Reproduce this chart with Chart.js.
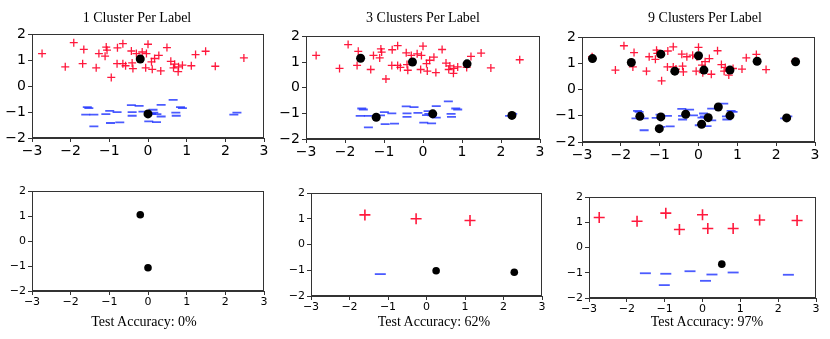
<!DOCTYPE html>
<html>
<head>
<meta charset="utf-8">
<script src="https://cdn.jsdelivr.net/npm/chart.js@4"></script>
<style>
  body { margin: 0; background: #fff; }
  #wrap { position: relative; width: 830px; height: 339px; overflow: hidden; }
  canvas { position: absolute; }
  .lbl { position: absolute; font-family: 'Liberation Serif', 'Times New Roman', serif; font-size: 14px; color: #000; white-space: nowrap; transform: translate(-50%, -50%); }
</style>
</head>
<body>
<div id="wrap">
  <canvas id="p1"></canvas>
  <canvas id="p2"></canvas>
  <canvas id="p3"></canvas>
  <canvas id="p4"></canvas>
  <canvas id="p5"></canvas>
  <canvas id="p6"></canvas>
  <div class="lbl" style="left:137px;top:18px">1 Cluster Per Label</div>
  <div class="lbl" style="left:423px;top:18px">3 Clusters Per Label</div>
  <div class="lbl" style="left:705px;top:18px">9 Clusters Per Label</div>
  <div class="lbl" style="left:144px;top:322px">Test Accuracy: 0%</div>
  <div class="lbl" style="left:434px;top:322px">Test Accuracy: 62%</div>
  <div class="lbl" style="left:707px;top:322px">Test Accuracy: 97%</div>
</div>
<script>
// training points, label +1
const redX = [-2.74, -1.92, -2.14, -1.66, -1.69, -1.34, -1.27, -1.11, -1.08, -1.06, -0.95, -0.80, -0.79, -0.65, -0.65,
    -0.58, -0.43, -0.41, -0.39, -0.30, -0.15, -0.04, 0.00, -0.06, 0.09, 0.11, 0.17, 0.28, 0.33, 0.49,
    0.59, 0.69, 0.66, 0.78, 0.79, 0.89, 1.12, 1.23, 1.49, 1.74, 2.48];
const redY = [1.26, 1.68, 0.75, 1.42, 0.87, 0.71, 1.26, 1.16, 1.51, 1.39, 0.34, 0.87, 1.48, 1.64, 0.87,
    0.79, 1.36, 0.90, 0.68, 1.26, 1.32, 1.26, 1.62, 0.71, 0.94, 0.65, 1.07, 1.19, 0.59, 1.49,
    0.96, 0.85, 0.71, 0.56, 0.75, 0.81, 0.79, 1.22, 1.35, 0.77, 1.09];

// training points, label -1
const blueX = [-1.57, -1.61, -1.40, -1.40, -1.09, -0.99, -0.97, -0.73, -0.80, -0.43, -0.41, -0.41, -0.23, -0.13, 0.02,
    0.13, 0.15, 0.23, 0.34, 0.34, 0.22, 0.65, 0.72, 0.73, 0.84, 0.89, 2.22, 2.30, 0.09, -1.53];
const blueY = [-0.81, -1.10, -1.10, -1.55, -1.08, -0.95, -1.42, -1.40, -1.00, -0.73, -1.00, -1.14, -0.76, -0.98, -1.36,
    -0.91, -1.02, -1.08, -1.17, -0.72, -1.39, -0.53, -1.02, -1.14, -0.81, -0.85, -1.10, -1.02, -1.07, -0.85];

// cluster centres for each panel
const centers1X = [-0.20, 0.00];
const centers1Y = [1.05, -1.07];
const centers3X = [-1.60, -0.27, 1.13, -1.20, 0.25, 2.28];
const centers3Y = [1.15, 1.00, 0.93, -1.15, -1.02, -1.08];
const centers9X = [-2.73, -1.73, -0.97, -0.61, 0.00, 0.14, 0.81, 1.51, 2.50,
    -1.51, -0.97, -0.33, -1.01, 0.08, 0.25, 0.51, 0.81, 2.27];
const centers9Y = [1.19, 1.04, 1.36, 0.71, 1.30, 0.75, 0.75, 1.09, 1.07,
    -1.02, -1.04, -0.94, -1.49, -1.32, -1.07, -0.66, -0.99, -1.08];

// predicted label of each centre at test time (1 = +, -1 = -, 0 = unresolved)
const pred1 = [0, 0];
const pred3 = [1, 1, 1, -1, 0, 0];
const pred9 = [1, 1, 1, 1, 1, 1, 1, 1, 1, -1, -1, -1, -1, -1, -1, 0, -1, -1];

const xTicks = [-3, -2, -1, 0, 1, 2, 3];
const yTicks = [-2, -1, 0, 1, 2];

const RED = 'rgba(255, 0, 40, 0.9)';
const BLUE = 'rgba(30, 50, 255, 0.8)';
const BLACK = '#000';

Chart.defaults.font.family = 'DejaVu Sans';
Chart.defaults.color = '#000';

function pts(xs, ys) {
    return xs.map((x, i) => ({ x: x, y: ys[i] }));
}

function pick(xs, ys, pred, want) {
    return pts(xs, ys).filter((p, i) => pred[i] === want);
}

const framePlugin = {
    id: 'frame',
    afterDraw(chart) {
        const a = chart.chartArea;
        const ctx = chart.ctx;
        ctx.save();
        ctx.strokeStyle = '#333';
        ctx.lineWidth = 1;
        ctx.strokeRect(Math.round(a.left) + 0.5, Math.round(a.top) + 0.5,
            Math.round(a.right - a.left) - 1, Math.round(a.bottom - a.top) - 1);
        ctx.restore();
    }
};

const fmt = v => v < 0 ? '\u2212' + Math.abs(v) : String(v);

function makePanel(id, box, datasets, fontSize) {
    const yw = 36, xh = 24, padTop = 10, padRight = 10;
    const canvas = document.getElementById(id);
    canvas.width = (box.right - box.left) + yw + padRight;
    canvas.height = (box.bottom - box.top) + padTop + xh;
    canvas.style.left = (box.left - yw) + 'px';
    canvas.style.top = (box.top - padTop) + 'px';

    const tickFont = { family: 'DejaVu Sans', size: fontSize, lineHeight: 1.2 };
    new Chart(canvas.getContext('2d'), {
        type: 'scatter',
        data: { datasets: datasets },
        options: {
            responsive: false,
            animation: false,
            devicePixelRatio: 1,
            layout: { padding: { top: padTop, right: padRight, left: 0, bottom: 0 } },
            plugins: { legend: { display: false }, tooltip: { enabled: false } },
            scales: {
                x: {
                    type: 'linear',
                    min: -3, max: 3,
                    afterBuildTicks: s => { s.ticks = xTicks.map(v => ({ value: v })); },
                    afterFit: s => { s.height = xh; },
                    grid: { drawOnChartArea: false, drawTicks: true, tickLength: 4, color: '#333' },
                    border: { display: true, color: '#333' },
                    ticks: { color: '#000', font: tickFont, padding: 1, maxRotation: 0, autoSkip: false, callback: fmt }
                },
                y: {
                    type: 'linear',
                    min: -2, max: 2,
                    afterBuildTicks: s => { s.ticks = yTicks.map(v => ({ value: v })); },
                    afterFit: s => { s.width = yw; },
                    grid: { drawOnChartArea: false, drawTicks: true, tickLength: 4, color: '#333' },
                    border: { display: true, color: '#333' },
                    ticks: { color: '#000', font: tickFont, padding: 2, autoSkip: false, callback: fmt }
                }
            }
        },
        plugins: [framePlugin]
    });
}

// black centres get the lowest order so they are drawn on top
function trainSets(cx, cy) {
    return [
        { data: pts(redX, redY), order: 2, pointStyle: 'cross', pointRadius: 4, borderColor: RED, borderWidth: 1.3, backgroundColor: RED },
        { data: pts(blueX, blueY), order: 1, pointStyle: 'line', pointRadius: 4.5, borderColor: BLUE, borderWidth: 1.8, backgroundColor: BLUE },
        { data: pts(cx, cy), order: 0, pointStyle: 'circle', pointRadius: 4.5, borderColor: BLACK, borderWidth: 0, backgroundColor: BLACK }
    ];
}

function testSets(cx, cy, pred) {
    return [
        { data: pick(cx, cy, pred, 1), order: 2, pointStyle: 'cross', pointRadius: 5.5, borderColor: RED, borderWidth: 1.6, backgroundColor: RED },
        { data: pick(cx, cy, pred, -1), order: 1, pointStyle: 'line', pointRadius: 5.5, borderColor: BLUE, borderWidth: 1.8, backgroundColor: BLUE },
        { data: pick(cx, cy, pred, 0), order: 0, pointStyle: 'circle', pointRadius: 3.8, borderColor: BLACK, borderWidth: 0, backgroundColor: BLACK }
    ];
}

makePanel('p1', { left: 32, right: 264, top: 34, bottom: 138 }, trainSets(centers1X, centers1Y), 14);
makePanel('p2', { left: 306, right: 540, top: 36, bottom: 139 }, trainSets(centers3X, centers3Y), 14);
makePanel('p3', { left: 582, right: 815, top: 37, bottom: 142 }, trainSets(centers9X, centers9Y), 14);
makePanel('p4', { left: 32, right: 264, top: 191, bottom: 291 }, testSets(centers1X, centers1Y, pred1), 11);
makePanel('p5', { left: 311, right: 542, top: 193, bottom: 296 }, testSets(centers3X, centers3Y, pred3), 11);
makePanel('p6', { left: 589, right: 816, top: 197, bottom: 298 }, testSets(centers9X, centers9Y, pred9), 11);
</script>
</body>
</html>
